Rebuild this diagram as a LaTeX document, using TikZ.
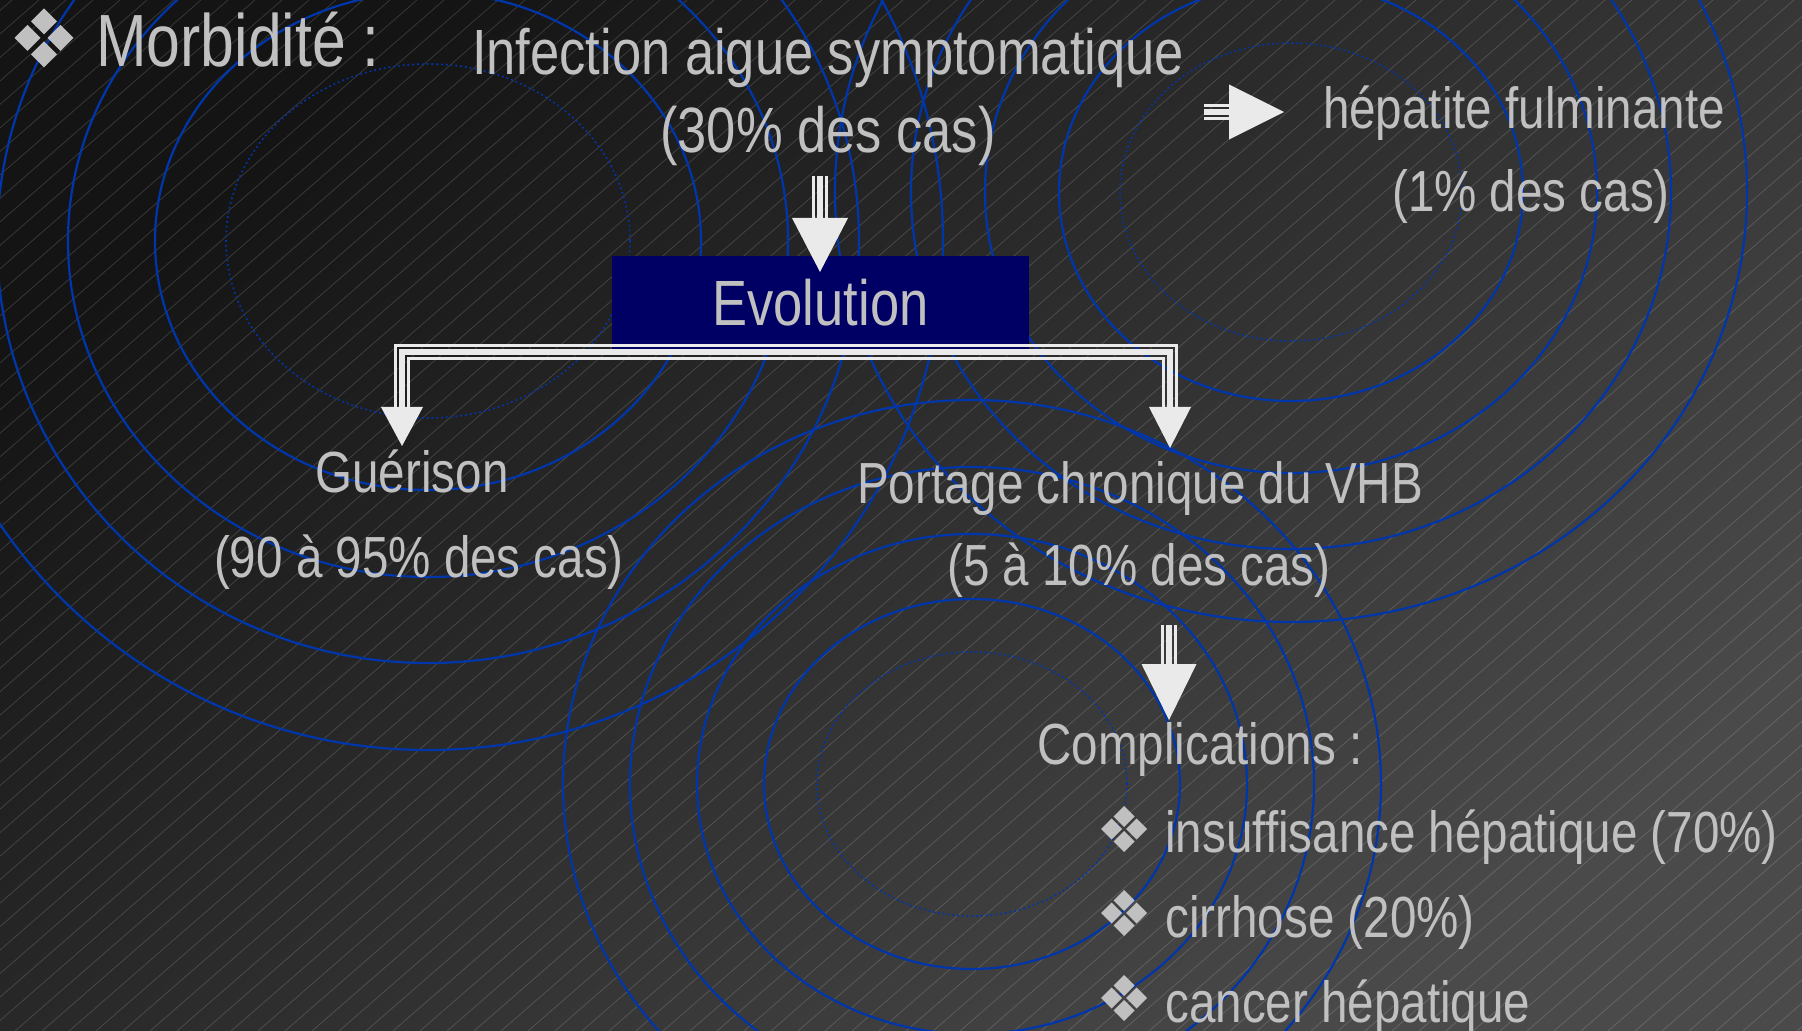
\documentclass[tikz,border=0pt]{standalone}
\usepackage{fontspec}
\setmainfont[FakeStretch=0.82]{Liberation Sans}
\usetikzlibrary{calc}

\definecolor{txtgray}{RGB}{192,192,192}
\definecolor{ringblue}{RGB}{0,54,172}
\definecolor{navybox}{RGB}{0,0,100}
\definecolor{arrwhite}{RGB}{234,234,234}
\definecolor{bgdark}{RGB}{20,20,20}
\definecolor{bglight}{RGB}{74,74,74}

\tikzset{
  ring/.style={draw=ringblue, line width=1.1pt},
  dotring/.style={draw=ringblue, line width=0.8pt, dash pattern=on 0.9pt off 1.5pt},
  bgline/.style={draw=white, opacity=0.15, line width=0.4pt},
  txt/.style={text=txtgray, inner sep=0pt, font=\fontsize{29pt}{35pt}\selectfont},
  bigtxt/.style={txt, font=\fontsize{32pt}{38pt}\selectfont},
  hugetxt/.style={txt, font=\fontsize{37pt}{44pt}\selectfont},
  evobox/.style={fill=navybox, draw=none, inner sep=0pt, minimum width=208.5pt, minimum height=46.5pt,
     text=txtgray, font=\fontsize{32pt}{38pt}\selectfont},
  core/.style={draw=arrwhite, line width=2.6pt, line join=miter},
  edge/.style={draw=arrwhite, line width=1.2pt, line join=miter},
  head/.style={fill=arrwhite, draw=none},
  bul/.style={fill=txtgray, draw=none},
}

% four-diamond bullet: centre x, centre y, offset, half diagonal (px)
\newcommand\quadbul[4]{%
  \foreach \dx/\dy in {0/-1,1/0,0/1,-1/0}{%
    \fill[bul] ($(#1,#2)+(\dx*#3,\dy*#3)+(0,-#4)$) -- ++(#4,#4) -- ++(-#4,#4) -- ++(-#4,-#4) -- cycle;}}

\begin{document}
\begin{tikzpicture}[x=0.5pt, y=-0.5pt]
\useasboundingbox (0,0) rectangle (1802,1031);
\clip (0,0) rectangle (1802,1031);

% background
\shade[top color=bgdark, bottom color=bglight, shading angle=40] (0,0) rectangle (1802,1031);
\foreach \i in {-1200,-1173,...,1800}
  \draw[bgline] (\i,1031) -- ++(1185,-1031);

% ripple rings, group 1
\draw[dotring] (428,241) ellipse [x radius=101pt, y radius=88.5pt];
\draw[ring] (428,241) ellipse [x radius=136.5pt, y radius=124.5pt];
\draw[ring] (428,241) ellipse [x radius=180pt, y radius=168pt];
\draw[ring] (428,241) ellipse [x radius=215.5pt, y radius=211pt];
\draw[ring] (428,241) ellipse [x radius=257.5pt, y radius=254.5pt];
% group 2
\draw[dotring] (1291,192) ellipse [x radius=85.5pt, y radius=74.5pt];
\draw[ring] (1291,192) ellipse [x radius=116pt, y radius=104.5pt];
\draw[ring] (1291,192) ellipse [x radius=153pt, y radius=140.5pt];
\draw[ring] (1291,192) ellipse [x radius=190pt, y radius=178.5pt];
\draw[ring] (1291,192) ellipse [x radius=228pt, y radius=215pt];
% group 3
\draw[dotring] (972,784) ellipse [x radius=77.5pt, y radius=66pt];
\draw[ring] (972,784) ellipse [x radius=104pt, y radius=92.5pt];
\draw[ring] (972,784) ellipse [x radius=137.5pt, y radius=125pt];
\draw[ring] (972,784) ellipse [x radius=171pt, y radius=158.5pt];
\draw[ring] (972,784) ellipse [x radius=204.5pt, y radius=192pt];

% title
\quadbul{44}{38}{16.5}{13}
\node[hugetxt, anchor=base west] (morb) at (96,67) {Morbidité :};

% texts
\node[bigtxt, anchor=base] (inf) at (828,75) {Infection aigue symptomatique};
\node[bigtxt, anchor=base] (inf2) at (828,153) {(30\% des cas)};
\node[evobox] (evo) at (820.5,302.5) {Evolution};
\node[txt, anchor=base] (hep) at (1524,129) {hépatite fulminante};
\node[txt, anchor=base] (hep2) at (1531,212) {(1\% des cas)};
\node[txt, anchor=base] (gue) at (412,492) {Guérison};
\node[txt, anchor=base] (gue2) at (419,577) {(90 à 95\% des cas)};
\node[txt, anchor=base] (por) at (1140,503) {Portage chronique du VHB};
\node[txt, anchor=base] (por2) at (1139,585) {(5 à 10\% des cas)};
\node[txt, anchor=base] (comp) at (1200,764) {Complications :};
\quadbul{1124}{829}{12.5}{10.5}
\node[txt, anchor=base west] (l1) at (1165,852) {insuffisance hépatique (70\%)};
\quadbul{1124}{913}{12.5}{10.5}
\node[txt, anchor=base west] (l2) at (1165,937) {cirrhose (20\%)};
\quadbul{1124}{998}{12.5}{10.5}
\node[txt, anchor=base west] (l3) at (1165,1022) {cancer hépatique};

% arrow: infection -> evolution
\coordinate (a1t) at (820,176);
\coordinate (a1b) at (820,218);
\draw[core] (a1t) -- (a1b);
\draw[edge] ($(a1t)+(-6.6,0)$) -- ($(a1b)+(-6.6,0)$);
\draw[edge] ($(a1t)+(6.6,0)$) -- ($(a1b)+(6.6,0)$);
\fill[head] ($(a1b)+(-28,0)$) -- ($(a1b)+(28,0)$) -- ($(a1b)+(0,54)$) -- cycle;

% arrow: infection -> hepatite fulminante
\coordinate (a2l) at (1204,112);
\coordinate (a2r) at (1229,112);
\draw[core] (a2l) -- (a2r);
\draw[edge] ($(a2l)+(0,-6.6)$) -- ($(a2r)+(0,-6.6)$);
\draw[edge] ($(a2l)+(0,6.6)$) -- ($(a2r)+(0,6.6)$);
\fill[head] ($(a2r)+(0,-27.5)$) -- ($(a2r)+(0,27.5)$) -- ($(a2r)+(55,0)$) -- cycle;

% elbow connector: evolution -> guerison / portage
\coordinate (eL) at (402,407);
\coordinate (eR) at (1170,407);
\draw[core] (eL) -- ($(eL)+(0,-55)$) -- ($(eR)+(0,-55)$) -- (eR);
\draw[edge] ($(eL)+(-6.6,0)$) -- ($(eL)+(-6.6,-61.6)$) -- ($(eR)+(6.6,-61.6)$) -- ($(eR)+(6.6,0)$);
\draw[edge] ($(eL)+(6.6,0)$) -- ($(eL)+(6.6,-48.4)$) -- ($(eR)+(-6.6,-48.4)$) -- ($(eR)+(-6.6,0)$);
\fill[head] ($(eL)+(-21,0)$) -- ($(eL)+(21,0)$) -- ($(eL)+(0,39)$) -- cycle;
\fill[head] ($(eR)+(-21,0)$) -- ($(eR)+(21,0)$) -- ($(eR)+(0,41)$) -- cycle;

% arrow: portage -> complications
\coordinate (a3t) at (1169,625);
\coordinate (a3b) at (1169,664);
\draw[core] (a3t) -- (a3b);
\draw[edge] ($(a3t)+(-6.6,0)$) -- ($(a3b)+(-6.6,0)$);
\draw[edge] ($(a3t)+(6.6,0)$) -- ($(a3b)+(6.6,0)$);
\fill[head] ($(a3b)+(-27.5,0)$) -- ($(a3b)+(27.5,0)$) -- ($(a3b)+(0,56)$) -- cycle;
\end{tikzpicture}
\end{document}
